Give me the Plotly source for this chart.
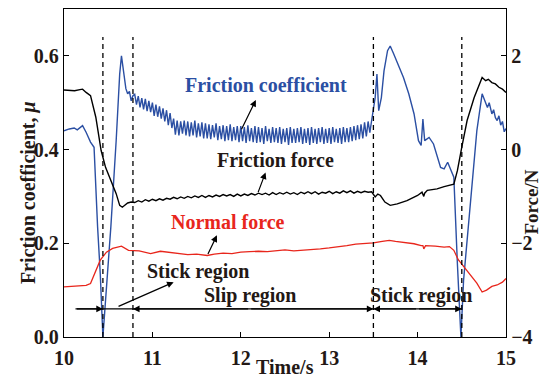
import numpy as np
import plotly.graph_objects as go

# ---------------- data ----------------
# Friction coefficient (left axis)
t_mu_pre = [10.00, 10.06, 10.115, 10.15, 10.21, 10.25, 10.30, 10.34, 10.38, 10.41, 10.44,
            10.48, 10.53, 10.59, 10.62, 10.63, 10.65, 10.68, 10.70, 10.72, 10.74, 10.76, 10.78]
mu_pre = [0.440, 0.444, 0.446, 0.442, 0.451, 0.437, 0.416, 0.405, 0.235, 0.136, 0.000,
          0.107, 0.235, 0.419, 0.526, 0.561, 0.600, 0.554, 0.530, 0.519, 0.524, 0.504, 0.515]

t_mu_slip = list(np.round(np.arange(10.80, 13.49, 0.02), 2))
mu_slip = [
    0.518, 0.496, 0.514, 0.490, 0.510, 0.486, 0.508, 0.482, 0.504, 0.480,
    0.500, 0.472, 0.496, 0.470, 0.492, 0.466, 0.488, 0.460, 0.484, 0.452,
    0.478, 0.446, 0.466, 0.432, 0.462, 0.430, 0.460, 0.434, 0.462, 0.430,
    0.460, 0.428, 0.458, 0.430, 0.462, 0.426, 0.456, 0.428, 0.458, 0.424,
    0.456, 0.424, 0.454, 0.422, 0.452, 0.426, 0.456, 0.420, 0.450, 0.422,
    0.452, 0.418, 0.450, 0.420, 0.454, 0.418, 0.448, 0.420, 0.450, 0.416,
    0.450, 0.418, 0.448, 0.414, 0.452, 0.418, 0.446, 0.416, 0.450, 0.414,
    0.448, 0.416, 0.446, 0.412, 0.450, 0.418, 0.444, 0.414, 0.448, 0.416,
    0.446, 0.414, 0.448, 0.412, 0.444, 0.416, 0.446, 0.410, 0.448, 0.414,
    0.444, 0.414, 0.446, 0.416, 0.448, 0.412, 0.444, 0.414, 0.446, 0.410,
    0.448, 0.414, 0.444, 0.412, 0.446, 0.416, 0.448, 0.412, 0.444, 0.414,
    0.446, 0.412, 0.448, 0.416, 0.444, 0.414, 0.446, 0.412, 0.448, 0.416,
    0.446, 0.416, 0.448, 0.418, 0.450, 0.420, 0.452, 0.422, 0.454, 0.424,
    0.458, 0.428, 0.460, 0.436, 0.462,
]

t_mu_post = [13.50, 13.52, 13.54, 13.56, 13.59, 13.62, 13.66, 13.69, 13.73, 13.79, 13.84,
             13.90, 13.96, 14.01, 14.04, 14.06, 14.08, 14.13, 14.18, 14.26, 14.30, 14.34,
             14.38, 14.41, 14.45, 14.49, 14.52, 14.60, 14.67, 14.73, 14.76, 14.79, 14.81,
             14.84, 14.86, 14.88, 14.90, 14.92, 14.94, 14.96, 14.98, 15.00]
mu_post = [0.483, 0.511, 0.561, 0.483, 0.511, 0.568, 0.611, 0.621, 0.604, 0.575, 0.554,
           0.519, 0.476, 0.419, 0.409, 0.465, 0.419, 0.426, 0.412, 0.362, 0.359, 0.373,
           0.355, 0.341, 0.157, 0.000, 0.121, 0.298, 0.440, 0.519, 0.504, 0.490, 0.500,
           0.476, 0.485, 0.468, 0.462, 0.472, 0.452, 0.460, 0.438, 0.445]

# Friction force (right axis, N)
t_ff_pre = [10.00, 10.06, 10.12, 10.18, 10.21, 10.25, 10.30, 10.36, 10.42, 10.47, 10.53,
            10.59, 10.63, 10.66, 10.72, 10.76]
ff_pre = [1.27, 1.26, 1.255, 1.28, 1.29, 1.22, 1.15, 0.69, -0.02, -0.38, -0.66,
          -0.94, -1.19, -1.23, -1.14, -1.12]

t_ff_slip = list(np.round(np.arange(10.80, 13.49, 0.04), 2))
ff_slip = [
    -1.13, -1.09, -1.12, -1.07, -1.10, -1.06, -1.09, -1.05, -1.08, -1.04,
    -1.06, -1.02, -1.05, -1.01, -1.04, -1.00, -1.03, -0.99, -1.02, -0.98,
    -1.02, -0.98, -1.01, -0.97, -1.00, -0.96, -0.99, -0.96, -1.00, -0.95,
    -0.99, -0.95, -0.98, -0.94, -0.97, -0.93, -0.96, -0.93, -0.97, -0.92,
    -0.96, -0.92, -0.95, -0.91, -0.95, -0.92, -0.96, -0.91, -0.94, -0.90,
    -0.94, -0.90, -0.95, -0.91, -0.93, -0.89, -0.94, -0.90, -0.93, -0.88,
    -0.92, -0.88, -0.93, -0.89, -0.92, -0.89, -0.91, -0.90,
]

t_ff_post = [13.52, 13.55, 13.58, 13.63, 13.69, 13.77, 13.88, 14.00, 14.05, 14.07, 14.08,
             14.11, 14.22, 14.30, 14.41, 14.45, 14.50, 14.56, 14.64, 14.73, 14.77, 14.80,
             14.84, 14.88, 14.92, 14.96, 15.00]
ff_post = [-1.01, -0.95, -0.98, -1.12, -1.19, -1.16, -1.09, -0.98, -0.91, -1.00, -0.93,
           -0.87, -0.84, -0.79, -0.74, -0.45, 0.05, 0.62, 1.11, 1.54, 1.47, 1.50,
           1.43, 1.40, 1.33, 1.29, 1.22]

# Normal force (right axis, N)
t_nf = [10.00, 10.10, 10.20, 10.25, 10.30, 10.36, 10.41, 10.48, 10.55, 10.65, 10.73,
        10.85, 10.98, 11.09, 11.20, 11.28, 11.40, 11.50, 11.62, 11.70, 11.80, 11.90,
        12.00, 12.10, 12.20, 12.30, 12.40, 12.50, 12.60, 12.70, 12.80, 12.90, 13.00,
        13.10, 13.20, 13.30, 13.40, 13.50, 13.60, 13.68, 13.75, 13.85, 13.96, 14.04,
        14.06, 14.07, 14.09, 14.20, 14.30, 14.36, 14.41, 14.46, 14.52, 14.60, 14.67,
        14.73, 14.78, 14.84, 14.90, 14.96, 15.00]
nf = [-2.93, -2.92, -2.90, -2.90, -2.86, -2.57, -2.36, -2.19, -2.11, -2.06, -2.15,
      -2.16, -2.22, -2.17, -2.20, -2.22, -2.24, -2.23, -2.26, -2.23, -2.21, -2.22,
      -2.19, -2.18, -2.17, -2.18, -2.16, -2.14, -2.16, -2.15, -2.13, -2.12, -2.10,
      -2.08, -2.05, -2.02, -2.01, -1.99, -1.96, -1.94, -1.96, -1.98, -2.01, -2.05,
      -2.05, -2.12, -2.05, -2.06, -2.08, -2.07, -2.15, -2.35, -2.50, -2.70, -2.85,
      -3.04, -3.00, -2.92, -2.89, -2.83, -2.75]

boundaries = [10.44, 10.78, 13.50, 14.50]

t_mu = t_mu_pre + t_mu_slip + t_mu_post
mu = mu_pre + mu_slip + mu_post
t_ff = t_ff_pre + t_ff_slip + t_ff_post
ff = ff_pre + ff_slip + ff_post

# ---------------- styling ----------------
BLUE = "#2b4fa3"
RED = "#e8261c"
INK = "#231815"
FONT = "Liberation Serif"
LBL = 20
TCK = 20

fig = go.Figure()
fig.add_trace(go.Scatter(x=t_ff, y=ff, yaxis="y2", mode="lines",
                         line=dict(color="black", width=1.4), showlegend=False))
fig.add_trace(go.Scatter(x=t_nf, y=nf, yaxis="y2", mode="lines",
                         line=dict(color=RED, width=1.3), showlegend=False))
fig.add_trace(go.Scatter(x=t_mu, y=mu, mode="lines",
                         line=dict(color=BLUE, width=1.4), showlegend=False))

shapes = []
for b in boundaries:
    shapes.append(dict(type="line", xref="x", yref="y", x0=b, x1=b, y0=0.0, y1=0.64,
                       line=dict(color="black", width=1.3, dash="5px,4px")))
shapes.append(dict(type="line", xref="x", yref="y", x0=10.13, x1=14.50, y0=0.06, y1=0.06,
                   line=dict(color="black", width=1.3)))

annotations = []

def arrow(tail, head):
    annotations.append(dict(x=head[0], y=head[1], ax=tail[0], ay=tail[1],
                            xref="x", yref="y", axref="x", ayref="y", text="",
                            showarrow=True, arrowhead=2, arrowsize=1.1, arrowwidth=1.2,
                            arrowcolor="black", standoff=0, startstandoff=0))

arrow((10.13, 0.06), (10.44, 0.06))
arrow((12.10, 0.06), (10.78, 0.06))
arrow((12.10, 0.06), (13.50, 0.06))
arrow((14.00, 0.06), (13.50, 0.06))
arrow((14.00, 0.06), (14.50, 0.06))
arrow((10.60, 0.064), (11.24, 0.117))
arrow((12.00, 0.440), (12.17, 0.506))
arrow((12.19, 0.306), (12.28, 0.351))
arrow((11.62, 0.174), (11.73, 0.217))

def label(text, x, y, color=INK, size=LBL):
    annotations.append(dict(x=x, y=y, xref="x", yref="y", text=text, showarrow=False,
                            font=dict(family=FONT, size=size, color=color, weight="bold")))

label("Friction coefficient", 12.29, 0.538, BLUE)
label("Friction force", 12.39, 0.377)
label("Normal force", 11.86, 0.245, RED)
label("Stick region", 11.52, 0.140)
label("Slip region", 12.10, 0.089)
label("Stick region", 14.04, 0.089)

annotations.append(dict(x=-0.111, y=0.44, xref="paper", yref="paper", text="Friction coefficient, <i>μ</i>",
                        showarrow=False, textangle=-90,
                        font=dict(family=FONT, size=LBL, color=INK, weight="bold")))
annotations.append(dict(x=1.085, y=0.41, xref="paper", yref="paper", text="Force/N",
                        showarrow=False, textangle=-90,
                        font=dict(family=FONT, size=19, color=INK, weight="bold")))
annotations.append(dict(x=0.5, y=-0.13, xref="paper", yref="paper", text="Time/s",
                        showarrow=False,
                        font=dict(family=FONT, size=LBL, color=INK, weight="bold")))

tickfont = dict(family=FONT, size=TCK, color=INK, weight="bold")

fig.update_layout(
    width=553, height=387,
    margin=dict(l=64, r=47, t=9, b=50),
    paper_bgcolor="white", plot_bgcolor="white",
    shapes=shapes, annotations=annotations,
    xaxis=dict(range=[10, 15], tickvals=[10, 11, 12, 13, 14, 15], ticks="inside", ticklen=5,
               tickcolor="black", showline=True, linecolor="black", linewidth=1.3,
               mirror=True, showgrid=False, zeroline=False, tickfont=tickfont,
               ticklabelstandoff=3),
    yaxis=dict(range=[0, 0.7], tickvals=[0.0, 0.2, 0.4, 0.6], tickformat=".1f",
               ticks="inside", ticklen=5, tickcolor="black", showline=True,
               linecolor="black", linewidth=1.3, showgrid=False, zeroline=False,
               tickfont=tickfont),
    yaxis2=dict(range=[-4, 3], tickvals=[-4, -2, 0, 2], overlaying="y", side="right",
                ticks="inside", ticklen=5, tickcolor="black", showline=True,
                linecolor="black", linewidth=1.3, showgrid=False, zeroline=False,
                tickfont=tickfont),
)

fig.write_html("out.html")
